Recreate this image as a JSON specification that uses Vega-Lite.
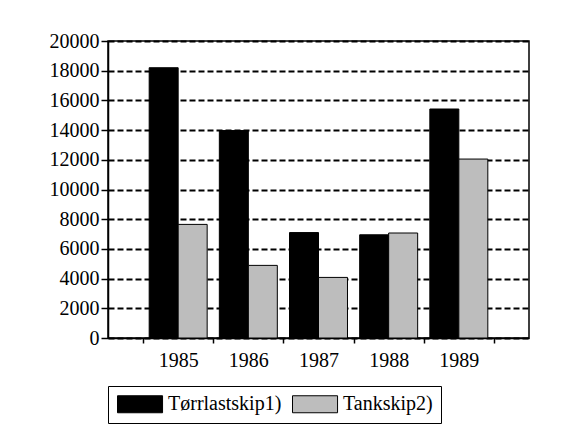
{
  "$schema": "https://vega.github.io/schema/vega-lite/v6.json",
  "autosize": "none",
  "width": 421,
  "height": 297,
  "padding": {"left": 108, "top": 41, "right": 53, "bottom": 92},
  "background": "white",
  "data": {
    "values": [
      {"year": "1985", "series": "Tørrlastskip1)", "value": 18200},
      {"year": "1985", "series": "Tankskip2)", "value": 7650},
      {"year": "1986", "series": "Tørrlastskip1)", "value": 13970},
      {"year": "1986", "series": "Tankskip2)", "value": 4890},
      {"year": "1987", "series": "Tørrlastskip1)", "value": 7100},
      {"year": "1987", "series": "Tankskip2)", "value": 4080},
      {"year": "1988", "series": "Tørrlastskip1)", "value": 6950},
      {"year": "1988", "series": "Tankskip2)", "value": 7070},
      {"year": "1989", "series": "Tørrlastskip1)", "value": 15420},
      {"year": "1989", "series": "Tankskip2)", "value": 12050}
    ]
  },
  "mark": {"type": "bar", "stroke": "black", "strokeWidth": 1},
  "encoding": {
    "x": {
      "field": "year",
      "type": "nominal",
      "scale": {"paddingInner": 0, "paddingOuter": 0.5},
      "axis": {
        "title": null,
        "labelAngle": 0,
        "labelFont": "Liberation Serif",
        "labelFontSize": 20,
        "labelColor": "black",
        "tickBand": "extent",
        "domainColor": "black",
        "domainWidth": 1.5,
        "tickColor": "black",
        "tickWidth": 1.5,
        "tickSize": 5,
        "labelPadding": 7
      }
    },
    "xOffset": {
      "field": "series",
      "type": "nominal",
      "scale": {"domain": ["Tørrlastskip1)", "Tankskip2)"], "paddingOuter": 0.21, "paddingInner": 0}
    },
    "y": {
      "field": "value",
      "type": "quantitative",
      "scale": {"domain": [0, 20000]},
      "axis": {
        "title": null,
        "values": [0, 2000, 4000, 6000, 8000, 10000, 12000, 14000, 16000, 18000, 20000],
        "format": "d",
        "labelFont": "Liberation Serif",
        "labelFontSize": 20,
        "labelColor": "black",
        "grid": true,
        "gridColor": "black",
        "gridDash": [6, 3],
        "gridWidth": 1.8,
        "gridOpacity": 1,
        "domainColor": "black",
        "domainWidth": 1.5,
        "tickColor": "black",
        "tickWidth": 1.5,
        "tickSize": 7,
        "labelPadding": 2
      }
    },
    "color": {
      "field": "series",
      "type": "nominal",
      "scale": {"domain": ["Tørrlastskip1)", "Tankskip2)"], "range": ["#000000", "#bdbdbd"]},
      "legend": {
        "title": null,
        "orient": "bottom",
        "direction": "horizontal",
        "offset": 16,
        "strokeColor": "black",
        "padding": 8,
        "symbolType": "M-1,-1H4.3V1H-1Z",
        "symbolSize": 289,
        "symbolStrokeColor": "black",
        "symbolStrokeWidth": 1,
        "symbolOpacity": 1,
        "labelFont": "Liberation Serif",
        "labelFontSize": 20,
        "labelColor": "black",
        "labelOffset": 32,
        "columnPadding": 8,
        "labelLimit": 300
      }
    }
  },
  "config": {
    "view": {"stroke": "black", "strokeWidth": 1.5},
    "axis": {"labelFont": "Liberation Serif"}
  }
}
